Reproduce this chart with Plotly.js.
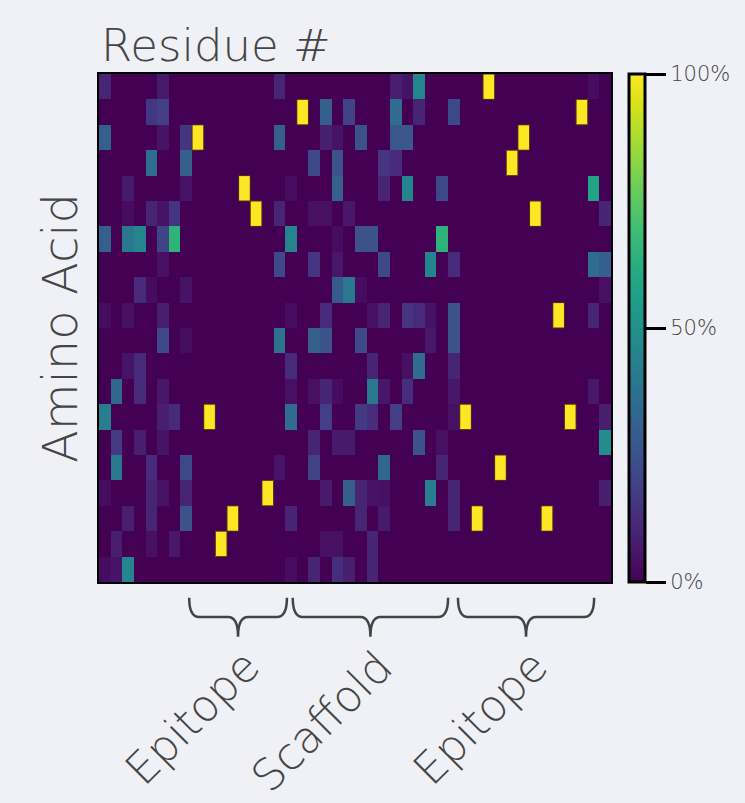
<!DOCTYPE html>
<html>
<head>
<meta charset="utf-8">
<script src="https://cdn.plot.ly/plotly-3.0.1.min.js"></script>
<style>
  html, body { margin: 0; padding: 0; background: #eff1f6; }
  #chart { width: 745px; height: 803px; }
</style>
</head>
<body>
<div id="chart"></div>
<script>
// Residue positions (columns) and amino acid rows
const residues = Array.from({length: 44}, (_, i) => i);
const aminoAcids = Array.from({length: 20}, (_, i) => i);

// Frequency per amino acid (row) at each residue (column), fraction 0..1
const row00 = [.10,0,0,0,0,.07,0,0,0,0,0,0,0,0,0,.10,0,0,0,0,0,0,0,0,0,.08,.05,.45,0,0,0,0,0,1,0,0,0,0,0,0,0,0,.03,0];
const row01 = [0,0,0,0,.16,.18,0,0,0,0,0,0,0,0,0,0,0,1,0,.30,0,.20,0,0,0,.35,0,.10,0,0,.22,0,0,0,0,0,0,0,0,0,0,1,0,0];
const row02 = [.30,0,0,0,0,.05,0,.15,1,0,0,0,0,0,0,.30,0,0,0,.08,.05,0,.25,0,0,.27,.27,0,0,0,0,0,0,0,0,0,1,0,0,0,0,0,0,0];
const row03 = [0,0,0,0,.35,0,0,.30,0,0,0,0,0,0,0,0,0,0,.22,0,.25,0,0,0,.15,.12,0,0,0,0,0,0,0,0,0,1,0,0,0,0,0,0,0,0];
const row04 = [0,0,.07,0,0,0,0,.05,0,0,0,0,1,0,0,0,.03,0,0,0,.30,0,0,0,.10,0,.45,0,0,.22,0,0,0,0,0,0,0,0,0,0,0,0,.58,0];
const row05 = [0,0,.03,0,.10,.05,.15,0,0,0,0,0,0,1,0,.10,0,0,.04,.04,0,.06,0,0,0,0,0,0,0,0,0,0,0,0,0,0,0,1,0,0,0,0,0,.10];
const row06 = [.30,0,.40,.45,0,.20,.65,0,0,0,0,0,0,0,0,0,.45,0,0,0,.03,0,.25,.25,0,0,0,0,0,.65,0,0,0,0,0,0,0,0,0,0,0,0,0,0];
const row07 = [0,0,0,0,0,.04,0,0,0,0,0,0,0,0,0,.22,0,0,.15,0,.06,0,0,0,.22,0,0,0,.45,0,.12,0,0,0,0,0,0,0,0,0,0,0,.35,.30];
const row08 = [0,0,0,.12,.03,0,0,.05,0,0,0,0,0,0,0,0,0,0,0,0,.28,.40,.03,0,0,0,0,0,0,0,0,0,0,0,0,0,0,0,0,0,0,0,0,.04];
const row09 = [.03,0,.04,0,0,.08,0,0,0,0,0,0,0,0,0,0,.03,0,0,.12,0,0,0,.04,.10,0,.15,.12,.05,0,.25,0,0,0,0,0,0,0,0,1,0,0,.10,0];
const row10 = [0,0,0,0,0,.22,0,.03,0,0,0,0,0,0,0,.38,0,0,.30,.25,0,0,.22,0,0,0,0,0,.06,0,.25,0,0,0,0,0,0,0,0,0,0,0,0,0];
const row11 = [0,0,.05,.12,0,0,0,0,0,0,0,0,0,0,0,0,.12,0,0,0,0,0,0,.10,0,0,.04,.35,0,0,.10,0,0,0,0,0,0,0,0,0,0,0,0,0];
const row12 = [0,.33,0,.12,0,.06,0,0,0,0,0,0,0,0,0,0,.04,0,.04,.10,.03,0,0,.40,.06,0,.13,0,0,0,.06,0,0,0,0,0,0,0,0,0,0,0,.06,0];
const row13 = [.42,0,0,0,0,.08,.12,0,0,1,0,0,0,0,0,0,.35,0,0,.18,0,0,.17,.13,0,.18,0,0,0,0,.04,1,0,0,0,0,0,0,0,0,1,0,0,.08];
const row14 = [0,.17,0,.08,0,.05,0,0,0,0,0,0,0,0,0,0,0,0,.10,0,.07,.07,0,0,0,0,0,.25,0,.04,0,0,0,0,0,0,0,0,0,0,0,0,0,.48];
const row15 = [0,.40,0,0,.12,0,0,.22,0,0,0,0,0,0,0,.05,0,0,.20,0,0,0,0,0,.33,0,0,0,0,.10,0,0,0,0,1,0,0,0,0,0,0,0,0,0];
const row16 = [.03,0,0,0,.10,.05,0,.10,0,0,0,0,0,0,1,0,0,0,0,.07,0,.30,.10,.05,.04,0,0,0,.42,0,.10,0,0,0,0,0,0,0,0,0,0,0,0,.08];
const row17 = [0,0,.08,0,.10,0,0,.25,0,0,0,1,0,0,0,0,.10,0,0,0,0,0,.10,0,.07,0,0,0,0,0,.10,0,1,0,0,0,0,0,1,0,0,0,0,0];
const row18 = [0,.08,0,0,.04,0,.06,0,0,0,1,0,0,0,0,0,0,0,0,.04,.04,0,0,.10,0,0,0,0,0,0,0,0,0,0,0,0,0,0,0,0,0,0,0,0];
const row19 = [.03,.05,.45,0,0,0,0,0,0,0,0,0,0,0,0,0,.03,0,.10,0,.13,.08,0,.10,0,0,0,0,0,0,0,0,0,0,0,0,0,0,0,0,0,0,0,0];

const freq = [row00,row01,row02,row03,row04,row05,row06,row07,row08,row09,
              row10,row11,row12,row13,row14,row15,row16,row17,row18,row19];

// Colorbar ticks
const cbTickVals = [0, 0.5, 1];
const cbTickText = ['0%', '50%', '100%'];

// Region brackets below the map (column-edge units) and their labels
const regionNames = ['Epitope', 'Scaffold', 'Epitope'];
const regionStart = [7.75, 16.65, 30.85];
const regionEnd   = [16.15, 30.0, 42.55];

const nCols = residues.length;
const FONT = 'DejaVu Sans, sans-serif';
const textColor = '#454545';

// outlines around fully conserved (100%) cells, derived from the data
const shapes = [];
freq.forEach((row, r) => row.forEach((v, c) => {
  if (v >= 1) {
    shapes.push({type: 'rect', xref: 'x', yref: 'y',
      x0: c - 0.5, x1: c + 0.5, y0: r - 0.5, y1: r + 0.5,
      line: {color: '#4a3215', width: 1}});
  }
}));

// curly braces (paper coordinates)
const yTop = -0.031, yBot = -0.069, yTip = -0.108, rad = 10 / 512;
const annotations = [];
regionNames.forEach((name, i) => {
  const x0 = regionStart[i] / nCols, x1 = regionEnd[i] / nCols, xc = (x0 + x1) / 2;
  const p = `M ${x0},${yTop} Q ${x0},${yBot} ${x0 + rad},${yBot} L ${xc - rad},${yBot} ` +
            `Q ${xc},${yBot} ${xc},${yTip} Q ${xc},${yBot} ${xc + rad},${yBot} ` +
            `L ${x1 - rad},${yBot} Q ${x1},${yBot} ${x1},${yTop}`;
  shapes.push({type: 'path', xref: 'paper', yref: 'paper', path: p,
    line: {color: '#444', width: 2.5}, layer: 'above'});
  annotations.push({text: name, xref: 'paper', yref: 'paper', x: xc, y: 0,
    xshift: 34, yshift: -56, xanchor: 'right', yanchor: 'top',
    textangle: -45, showarrow: false,
    font: {family: FONT, size: 44, color: textColor, weight: 200}});
});

const trace = {
  type: 'heatmap',
  x: residues,
  y: aminoAcids,
  z: freq,
  zmin: 0, zmax: 1,
  colorscale: 'Viridis',
  hoverongaps: false,
  colorbar: {
    x: 1.035, xanchor: 'left', xpad: 0,
    y: 0.5, yanchor: 'middle', ypad: 0,
    len: 1, lenmode: 'fraction',
    thickness: 16,
    outlinewidth: 3, outlinecolor: '#000',
    ticks: 'outside', ticklen: 20, tickwidth: 3, tickcolor: '#000',
    tickvals: cbTickVals, ticktext: cbTickText,
    tickfont: {family: FONT, size: 21, color: '#444', weight: 200}
  }
};

const layout = {
  width: 745, height: 803,
  paper_bgcolor: '#eff1f6', plot_bgcolor: '#eff1f6',
  margin: {l: 99, r: 134, t: 74, b: 221, autoexpand: false},
  title: {text: 'Residue #', xref: 'paper', x: 0.004, xanchor: 'left',
          yref: 'container', y: 0.944, yanchor: 'middle',
          font: {family: FONT, size: 45, color: textColor, weight: 200}},
  xaxis: {range: [-0.5, 43.5], showticklabels: false, ticks: '', showgrid: false,
          zeroline: false, showline: true, mirror: true, linecolor: '#000', linewidth: 2},
  yaxis: {range: [19.5, -0.5], showticklabels: false, ticks: '', showgrid: false,
          zeroline: false, showline: true, mirror: true, linecolor: '#000', linewidth: 2,
          title: {text: 'Amino Acid', standoff: 4,
                  font: {family: FONT, size: 48, color: textColor, weight: 200}}},
  shapes: shapes,
  annotations: annotations,
  showlegend: false
};

Plotly.newPlot('chart', [trace], layout, {displayModeBar: false, staticPlot: true});
</script>
</body>
</html>
